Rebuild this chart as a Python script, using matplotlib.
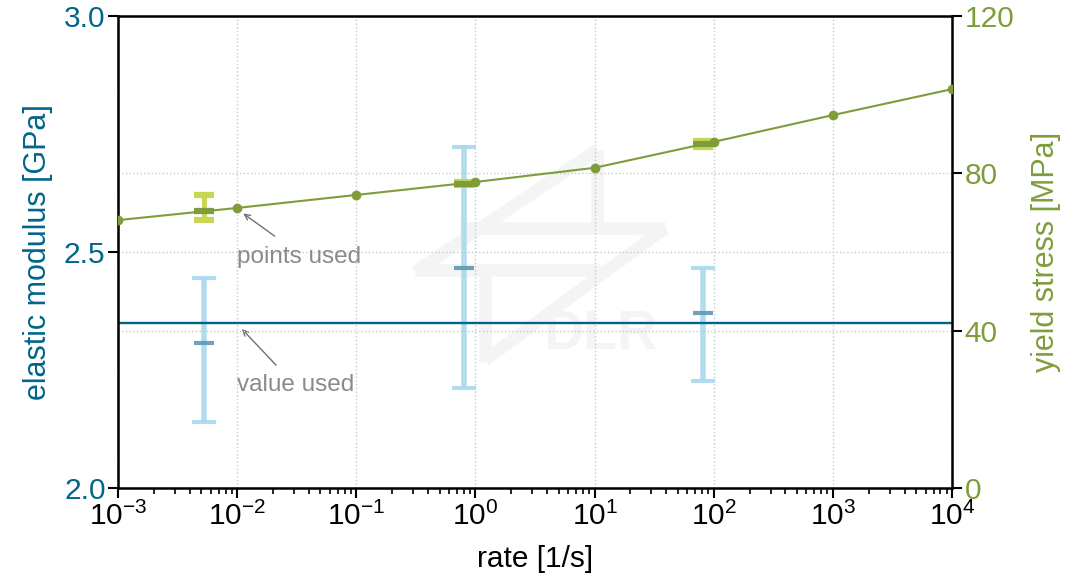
import matplotlib
matplotlib.use('Agg')
import matplotlib.pyplot as plt
import numpy as np

plt.rcParams['font.family'] = ['Liberation Sans', 'DejaVu Sans']
plt.rcParams['mathtext.default'] = 'regular'

# fitted yield stress curve
rate_fit = [1e-3, 1e-2, 1e-1, 1e0, 1e1, 1e2, 1e3, 1e4]
yield_fit = [68.1, 71.2, 74.5, 77.8, 81.4, 88.0, 94.8, 101.4]

# test results per rate
test_rate = [5.3e-3, 0.8, 82]
modulus_mean = [2.307, 2.466, 2.371]
modulus_low = [2.140, 2.212, 2.227]
modulus_high = [2.445, 2.722, 2.466]
stress_mean = [70.3, 77.4, 87.5]
stress_low = [68.1, 77.1, 86.7]
stress_high = [74.5, 77.7, 88.3]
modulus_used = 2.35

blue = '#00658b'
light_blue = '#a9d9ee'
green = '#7e9d3a'
light_green = '#c9d655'

fig = plt.figure(figsize=(10.71, 5.79), dpi=100)
ax = fig.add_axes([0.1102, 0.1572, 0.7787, 0.8152])
ax2 = ax.twinx()

# watermark (DLR logo, rough)
W = 834.0
H = 472.0
def frac(px, py):
    return ((px - 118) / W, (488 - py) / H)

wm = '#f4f4f4'
strokes = [
    [(597, 150), (415, 272)],
    [(415, 270), (600, 270)],
    [(460, 228), (665, 228)],
    [(665, 228), (485, 360)],
    [(485, 270), (485, 362)],
    [(597, 150), (597, 228)],
]
for s in strokes:
    p = [frac(*q) for q in s]
    ax.plot([p[0][0], p[1][0]], [p[0][1], p[1][1]], transform=ax.transAxes,
            color=wm, lw=9, solid_capstyle='butt', zorder=0)
tx, ty = frac(600, 335)
ax.text(tx, ty, 'DLR', transform=ax.transAxes, fontsize=40, fontweight='bold',
        color=wm, ha='center', va='center', zorder=0)

# left axis: elastic modulus
ax.axhline(modulus_used, color=blue, lw=1.7, zorder=3)
m = np.array(modulus_mean)
ax.errorbar(test_rate, m, yerr=[m - np.array(modulus_low), np.array(modulus_high) - m],
            fmt='_', color='#5f98b3', ecolor=light_blue, markersize=15, mew=3,
            elinewidth=4, capsize=8.5, capthick=3, alpha=0.9, zorder=2)

# right axis: yield stress
s = np.array(stress_mean)
ax2.errorbar(test_rate, s, yerr=[s - np.array(stress_low), np.array(stress_high) - s],
             fmt='_', color=green, ecolor=light_green, markersize=15, mew=4.5,
             elinewidth=3.5, capsize=7.5, capthick=4.5, zorder=2)
ax2.plot(rate_fit, yield_fit, '-o', color=green, lw=1.5, markersize=6, zorder=3)

ax.set_xscale('log')
ax.set_xlim(1e-3, 1e4)
ax.set_ylim(2.0, 3.0)
ax2.set_ylim(0, 120)
ax.set_yticks([2.0, 2.5, 3.0])
ax2.set_yticks([0, 40, 80, 120])

ax.grid(True, which='major', ls=':', color='#c8c8c8', lw=1)
ax2.grid(True, axis='y', ls=':', color='#c8c8c8', lw=1)
ax.set_axisbelow(True)

ax.set_xlabel('rate [1/s]', fontsize=21.5, labelpad=10)
ax.set_ylabel('elastic modulus [GPa]', fontsize=22, color=blue, labelpad=8)
ax2.set_ylabel('yield stress [MPa]', fontsize=22, color=green, labelpad=12)

ax.tick_params(axis='x', which='major', labelsize=21.5, length=7, width=1.5, pad=3)
ax.tick_params(axis='x', which='minor', length=4, width=1.2)
ax.tick_params(axis='y', labelsize=21.5, length=7, width=1.5, pad=2, labelcolor=blue)
ax2.tick_params(axis='y', labelsize=21.5, length=7, width=1.5, pad=2, labelcolor=green)
for sp in ax2.spines.values():
    sp.set_linewidth(1.8)

# annotations
ax2.annotate('', xy=(0.01077, 70.2), xytext=(0.0216, 63.6),
             arrowprops=dict(arrowstyle='->', color='#707070', lw=1))
ax2.text(0.01, 58.7, 'points used', fontsize=17.5, color='#8a8a8a', va='center', ha='left')
ax.annotate('', xy=(0.01057, 2.341), xytext=(0.0220, 2.256),
            arrowprops=dict(arrowstyle='->', color='#707070', lw=1))
ax.text(0.01, 2.218, 'value used', fontsize=17.5, color='#8a8a8a', va='center', ha='left')

fig.savefig('out.png', dpi=100)
